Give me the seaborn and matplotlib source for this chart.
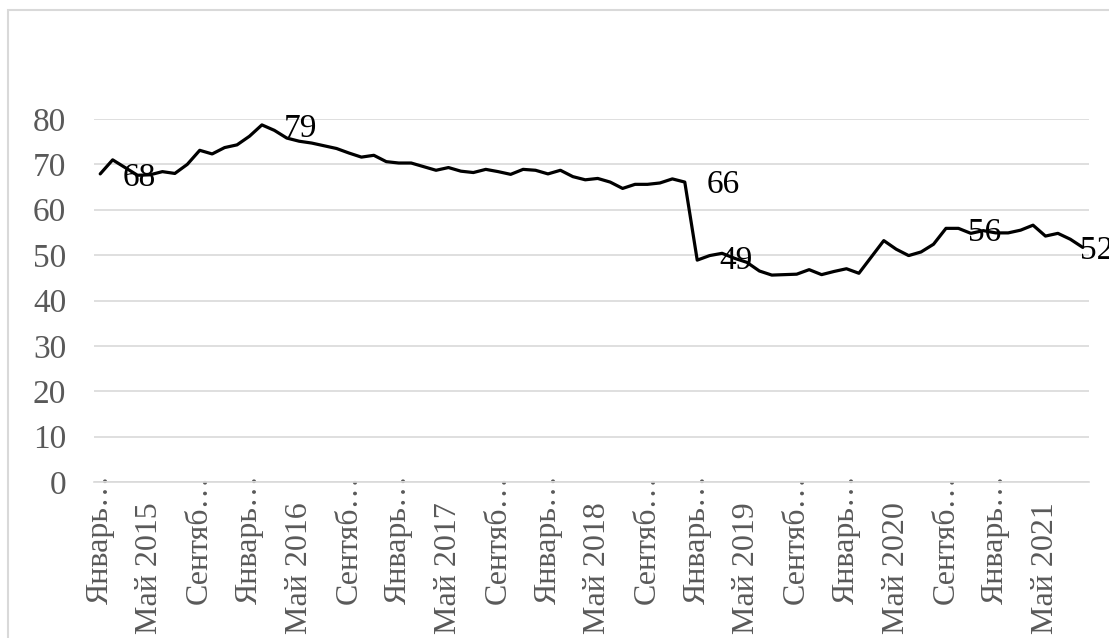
# plot.py
# - Monthly index, January 2015 - August 2021
# - Excel-like line chart rebuilt with seaborn/matplotlib

import matplotlib.pyplot as plt
import matplotlib.patches as patches
import numpy as np
import pandas as pd
import seaborn as sns

MONTH_NAMES = ["Январь", "Февраль", "Март", "Апрель", "Май", "Июнь",
               "Июль", "Август", "Сентябрь", "Октябрь", "Ноябрь", "Декабрь"]
YEARS = [2015, 2016, 2017, 2018, 2019, 2020, 2021]

VALUES = [
    67.9, 71.0, 69.3, 67.6, 67.7, 68.4, 68.0, 70.0, 73.1, 72.3, 73.7, 74.3,
    76.2, 78.7, 77.5, 75.8, 75.1, 74.7, 74.1, 73.5, 72.5, 71.6, 72.0, 70.6,
    70.3, 70.3, 69.5, 68.7, 69.3, 68.5, 68.2, 68.9, 68.4, 67.8, 68.9, 68.7,
    67.9, 68.7, 67.3, 66.6, 66.9, 66.1, 64.7, 65.6, 65.6, 65.9, 66.8, 66.1,
    48.9, 49.9, 50.4, 49.3, 48.4, 46.5, 45.6, 45.7, 45.8, 46.8, 45.7, 46.4,
    47.0, 46.0, 49.6, 53.2, 51.3, 49.9, 50.7, 52.4, 55.9, 55.9, 54.8, 55.4,
    54.9, 54.9, 55.5, 56.6, 54.2, 54.8, 53.5, 51.7,
]

# data labels: text, x (category position), y (baseline)
LABEL_TEXTS = ["68", "79", "66", "49", "56", "52"]
LABEL_X = [3.1, 16.1, 50.1, 51.1, 71.1, 80.1]
LABEL_Y = [65.3, 76.1, 63.7, 46.9, 53.1, 49.1]

GRID_COLOR = "#d9d9d9"
TEXT_COLOR = "#595959"
FONT_SIZE = 24
XLABEL_SIZE = 23


def month_labels(n):
    """Build 'Месяц ГГГГ' labels for n months starting January 2015."""
    labels = []
    for i in range(n):
        labels.append(f"{MONTH_NAMES[i % 12]} {YEARS[i // 12]}")
    return labels


def truncate(label, limit=8):
    """Excel style truncation of long category labels."""
    if len(label) > limit:
        return label[:6] + "…"
    return label


def main():
    sns.set_theme(style="white")
    plt.rcParams["font.family"] = ["Liberation Serif", "DejaVu Serif"]

    months = month_labels(len(VALUES))
    data = pd.DataFrame({"pos": np.arange(len(VALUES)), "value": VALUES, "month": months})

    fig = plt.figure(figsize=(11.09, 6.38), dpi=100)
    ax = fig.add_axes([94 / 1109, 1 - 482 / 638, 995 / 1109, 363 / 638])

    # chart border (cut off at right and bottom like the source)
    fig.patches.append(patches.Rectangle((8 / 1109, -0.1), 1.2, 1 - 10 / 638 + 0.1,
                                         transform=fig.transFigure, fill=False,
                                         edgecolor=GRID_COLOR, linewidth=1.5))

    sns.lineplot(data=data, x="pos", y="value", color="black", linewidth=2.3, ax=ax)

    for text, x, y in zip(LABEL_TEXTS, LABEL_X, LABEL_Y):
        ax.text(x, y, text, ha="center", va="baseline", fontsize=FONT_SIZE,
                color="black", clip_on=False)

    ax.set_xlim(-0.5, len(VALUES) - 0.5)
    ax.set_ylim(0, 80)
    ax.set_yticks(range(0, 81, 10))
    ax.yaxis.grid(True, color=GRID_COLOR, linewidth=1.2)
    ax.set_axisbelow(True)

    tick_pos = list(range(0, len(VALUES), 4))
    tick_labels = [truncate(months[i]) for i in tick_pos]
    ax.set_xticks(tick_pos)
    ax.set_xticklabels(tick_labels, rotation=90)
    ax.set_xticks(np.arange(-0.5, len(VALUES), 4), minor=True)
    ax.tick_params(axis="x", which="major", length=0, labelsize=XLABEL_SIZE,
                   labelcolor=TEXT_COLOR)
    ax.tick_params(axis="x", which="minor", length=7, width=1.2, color=GRID_COLOR,
                   direction="out")
    ax.tick_params(axis="y", length=0, pad=20, labelsize=FONT_SIZE, labelcolor=TEXT_COLOR)

    for tick, label in zip(ax.xaxis.get_major_ticks(), tick_labels):
        tick.set_pad(-5.5 if label.endswith("…") else 14.5)

    for side in ["top", "left", "right"]:
        ax.spines[side].set_visible(False)
    ax.spines["bottom"].set_color(GRID_COLOR)
    ax.spines["bottom"].set_linewidth(1.2)

    ax.set_xlabel("")
    ax.set_ylabel("")

    fig.savefig("out.png", dpi=100)


if __name__ == "__main__":
    main()
